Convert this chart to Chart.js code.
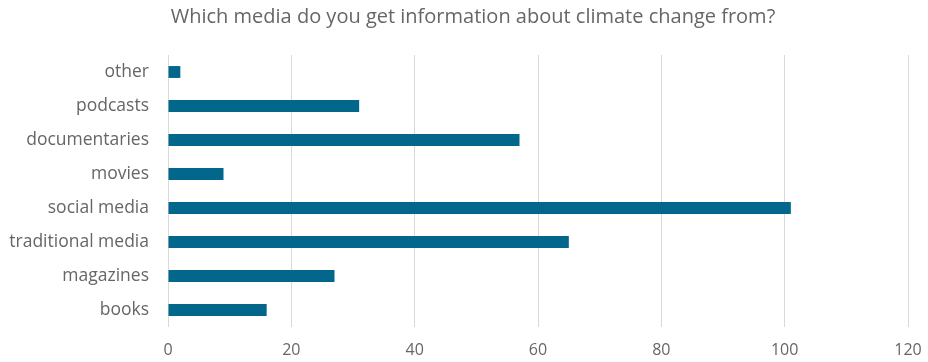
<!DOCTYPE html>
<html>
<head>
<meta charset="utf-8">
<script src="https://cdn.jsdelivr.net/npm/chart.js@4.4.1/dist/chart.umd.min.js"></script>
<style>
  html, body { margin: 0; padding: 0; background: #fff; }
  #wrap { width: 928px; height: 362px; }
</style>
</head>
<body>
<div id="wrap"><canvas id="mediaChart"></canvas></div>
<script>
// Survey answers: where people hear about climate change
const mediaTypes = ["other", "podcasts", "documentaries", "movies", "social media", "traditional media", "magazines", "books"];
const responses = [2, 31, 57, 9, 101, 65, 27, 16];
const xTicks = [0, 20, 40, 60, 80, 100, 120];
const chartTitle = "Which media do you get information about climate change from?";

const textGrey = "#666666";
const fontFamily = "'Open Sans', 'Liberation Sans', sans-serif";

// Title drawn by hand so it can sit a little right of the canvas centre
const headingPlugin = {
    id: "heading",
    afterDraw(chart) {
        const c = chart.ctx;
        c.save();
        c.font = "20px " + fontFamily;
        c.fillStyle = textGrey;
        c.textAlign = "center";
        c.textBaseline = "middle";
        c.fillText(chartTitle, 473, 17);
        c.restore();
    }
};

const ctx = document.getElementById("mediaChart").getContext("2d");

new Chart(ctx, {
    type: "bar",
    data: {
        labels: mediaTypes,
        datasets: [{
            label: "Responses",
            data: responses,
            backgroundColor: "#03678c",
            borderWidth: 0,
            barPercentage: 0.7,
            categoryPercentage: 0.5
        }]
    },
    options: {
        indexAxis: "y",
        responsive: true,
        maintainAspectRatio: false,
        animation: false,
        layout: {
            padding: { left: 0, right: 20, top: 55, bottom: 0 }
        },
        scales: {
            x: {
                min: 0,
                max: 120,
                afterBuildTicks: scale => {
                    scale.ticks = xTicks.map(v => ({ value: v }));
                },
                afterFit: scale => {
                    // fixed axis band, no extra room reserved for edge labels
                    scale.height = 35;
                    scale.paddingLeft = 0;
                    scale.paddingRight = 0;
                },
                grid: {
                    color: "#d9d9d9",
                    lineWidth: 1,
                    drawTicks: false
                },
                border: { display: false },
                ticks: {
                    color: textGrey,
                    padding: 14,
                    font: { family: fontFamily, size: 16 }
                }
            },
            y: {
                grid: { display: false },
                border: { display: false },
                afterFit: scale => {
                    scale.width = 168;
                    scale.paddingTop = 0;
                    scale.paddingBottom = 0;
                },
                ticks: {
                    color: textGrey,
                    padding: 11,
                    font: { family: fontFamily, size: 17.5 }
                }
            }
        },
        plugins: {
            legend: { display: false },
            tooltip: { enabled: false },
            title: { display: false }
        }
    },
    plugins: [headingPlugin]
});
</script>
</body>
</html>
